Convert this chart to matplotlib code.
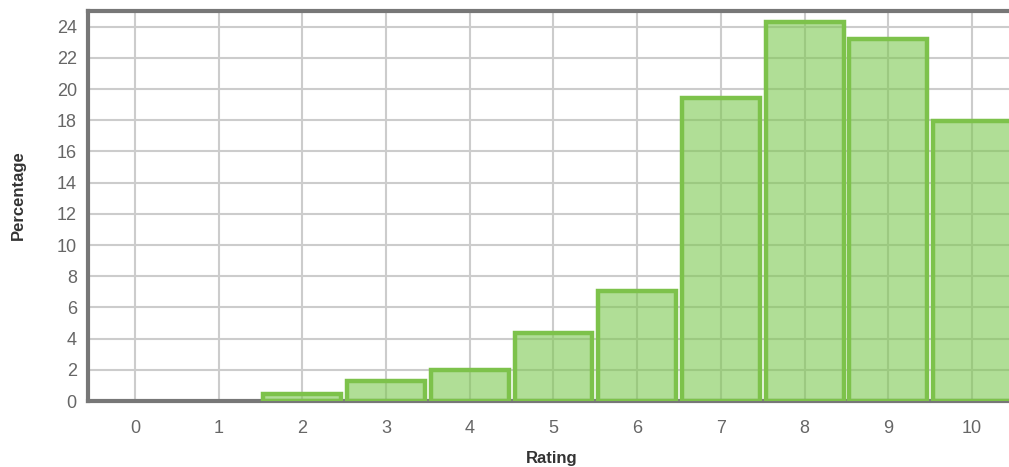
import matplotlib.pyplot as plt

ratings = list(range(0, 11))
percent = [0.0, 0.0, 0.45, 1.3, 2.0, 4.35, 7.05, 19.45, 24.3, 23.2, 17.95]

GRID = "#cccccc"
AXIS = "#777777"
TEXT = "#666666"

plt.rcParams["font.family"] = ["Liberation Sans", "DejaVu Sans"]

fig = plt.figure(figsize=(10.09, 4.67), dpi=100)
# axes run past the right edge of the figure, as in the source chart
ax = fig.add_axes([0.0872, 0.1413, 0.95, 0.8351])

ax.set_axisbelow(True)
ax.grid(True, color=GRID, linewidth=1.5)

# only draw bars that have a value
shown = [(r, p) for r, p in zip(ratings, percent) if p > 0]
xs = [r for r, _ in shown]
ys = [p for _, p in shown]
ax.bar(xs, ys, width=0.93, color="#7cc850", alpha=0.6, zorder=2)
ax.bar(xs, ys, width=0.93, facecolor="none", edgecolor="#7dc24b",
       linewidth=3.2, zorder=3)

ax.set_xlim(-0.56, 10.89)
ax.set_ylim(0, 25)
ax.set_xticks(ratings)
ax.set_yticks(range(0, 25, 2))

ax.tick_params(axis="both", length=0, labelsize=13, labelcolor=TEXT)
ax.tick_params(axis="x", pad=14)
ax.tick_params(axis="y", pad=8)

for side in ("left", "top", "bottom"):
    ax.spines[side].set_color(AXIS)
    ax.spines[side].set_linewidth(3)
ax.spines["right"].set_visible(False)

ax.set_xlabel("Rating", fontsize=12, fontweight="bold", color="#333333", va="center")
ax.set_ylabel("Percentage", fontsize=12, fontweight="bold", color="#333333", va="center")
ax.xaxis.set_label_coords((551 - 88) / 958.0, (401 - 458) / 390.0)
ax.yaxis.set_label_coords((18 - 88) / 958.0, (401 - 195) / 390.0)

fig.savefig("out.png", dpi=100)
